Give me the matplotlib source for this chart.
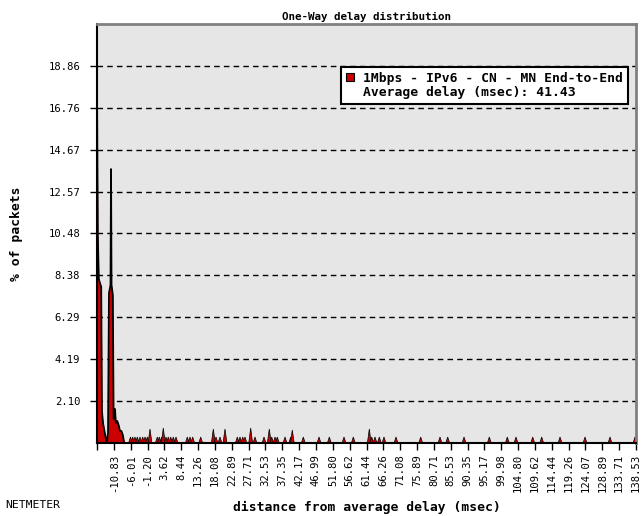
import matplotlib
matplotlib.use('Agg')
import matplotlib.pyplot as plt
from matplotlib.patches import Patch
from matplotlib.lines import Line2D

# main peaks (delay from average in msec, % of packets)
peak_delay = [-15.65, -15.42, -15.14, -14.45, -14.25, -13.93, -13.53, -13.19, -12.85,
              -12.50, -12.22, -11.79, -11.64, -11.50, -11.13, -10.90, -10.50, -10.27,
              -9.87, -9.47, -9.07, -8.67, -8.27, -7.87]
peak_pct = [17.8, 10.4, 8.2, 7.8, 1.6, 1.0, 0.6, 0.3, 0.0,
            0.5, 7.5, 7.9, 13.7, 7.9, 7.4, 1.2, 1.7, 1.0,
            1.1, 0.9, 0.6, 0.6, 0.4, 0.0]

# scattered small bins
small_delay = [-6.07, -5.44, -4.78, -4.12, -3.35, -2.58, -1.92, -1.26, -0.49, 1.60,
               2.17, 2.86, 3.31, 4.09, 4.74, 5.43, 6.18, 6.95, 10.18, 10.95,
               11.72, 14.01, 17.62, 18.39, 19.53, 20.96, 24.48, 25.25, 26.03, 26.68,
               28.31, 29.54, 32.12, 33.63, 34.32, 35.27, 35.92, 38.13, 39.76, 40.21,
               43.36, 47.85, 50.80, 55.00, 57.66, 62.24, 62.93, 63.87, 65.10, 66.44,
               69.88, 76.94, 82.46, 84.66, 89.33, 96.56, 101.71, 104.20, 108.98, 111.55,
               116.79, 123.94, 131.09, 138.24]
small_pct = [0.3, 0.3, 0.3, 0.3, 0.3, 0.3, 0.3, 0.3, 0.7, 0.3,
             0.3, 0.3, 0.75, 0.3, 0.3, 0.3, 0.3, 0.3, 0.3, 0.3,
             0.3, 0.3, 0.7, 0.3, 0.3, 0.7, 0.3, 0.3, 0.3, 0.3,
             0.75, 0.3, 0.3, 0.7, 0.3, 0.3, 0.3, 0.3, 0.3, 0.65,
             0.3, 0.3, 0.3, 0.3, 0.3, 0.7, 0.3, 0.3, 0.3, 0.3,
             0.3, 0.3, 0.3, 0.3, 0.3, 0.3, 0.3, 0.3, 0.3, 0.3,
             0.3, 0.3, 0.3, 0.3]

xtick_vals = [-15.65, -10.83, -6.01, -1.20, 3.62, 8.44, 13.26, 18.08, 22.89, 27.71,
              32.53, 37.35, 42.17, 46.99, 51.80, 56.62, 61.44, 66.26, 71.08, 75.89,
              80.71, 85.53, 90.35, 95.17, 99.98, 104.80, 109.62, 114.44, 119.26,
              124.07, 128.89, 133.71, 138.53]
ytick_vals = [2.10, 4.19, 6.29, 8.38, 10.48, 12.57, 14.67, 16.76, 18.86]
series_name = '1Mbps - IPv6 - CN - MN End-to-End'
avg_delay = 41.43

mono = 'DejaVu Sans Mono'
red = '#cc0000'

fig = plt.figure(figsize=(6.42, 5.16), dpi=100)
ax = fig.add_axes([0.1511, 0.1415, 0.8396, 0.812])
ax.set_facecolor('#e6e6e6')

# grid
for yv in ytick_vals:
    ax.axhline(yv, color='black', lw=1.0, dashes=(4, 3), zorder=1)

# main peaks
ax.fill_between(peak_delay, peak_pct, 0, color=red, lw=0, zorder=2)
ax.plot(peak_delay, peak_pct, color='black', lw=1.3, zorder=3, clip_on=False)

# small bins drawn as narrow spikes
hw = 0.55
for d, p in zip(small_delay, small_pct):
    ax.fill([d - hw, d, d + hw], [0, p, 0], facecolor=red, edgecolor='black',
            lw=0.5, zorder=2)

ax.set_xlim(-15.65, 138.53)
ax.set_ylim(0, 20.956)

ax.set_xticks(xtick_vals)
ax.set_xticklabels([''] + ['%.2f' % v for v in xtick_vals[1:]], rotation=90,
                   family=mono, fontsize=7.6)
ax.set_yticks(ytick_vals)
ax.set_yticklabels(['%.2f' % v for v in ytick_vals], family=mono, fontsize=7.6)
ax.tick_params(axis='both', length=5, width=1, color='black', pad=3)
ax.tick_params(axis='y', pad=7)

for s in ['top', 'right']:
    ax.spines[s].set_color('#808080')
    ax.spines[s].set_linewidth(2)
for s in ['left', 'bottom']:
    ax.spines[s].set_color('black')
    ax.spines[s].set_linewidth(1.5)

ax.set_title('One-Way delay distribution', family=mono, fontweight='bold',
             fontsize=7.8, pad=3)
ax.set_xlabel('distance from average delay (msec)', family=mono,
              fontweight='bold', fontsize=9.4, labelpad=6)
ax.set_ylabel('% of packets', family=mono, fontweight='bold', fontsize=9.4,
              labelpad=18)

handles = [Patch(facecolor=red, edgecolor='black', lw=0.8),
           Line2D([], [], linestyle='none')]
leg = ax.legend(handles, [series_name, 'Average delay (msec): %.2f' % avg_delay],
                loc='upper right', bbox_to_anchor=(0.985, 0.898),
                prop={'family': mono, 'weight': 'bold', 'size': 9.4},
                handlelength=0.6, handleheight=0.6, handletextpad=0.7,
                borderpad=0.4, labelspacing=0.05, fancybox=False,
                framealpha=1, borderaxespad=0)
leg.get_frame().set_edgecolor('black')
leg.get_frame().set_linewidth(1.5)

fig.text(0.008, 0.016, 'NETMETER', family=mono, fontsize=8.2)

fig.savefig('out.png', dpi=100)
